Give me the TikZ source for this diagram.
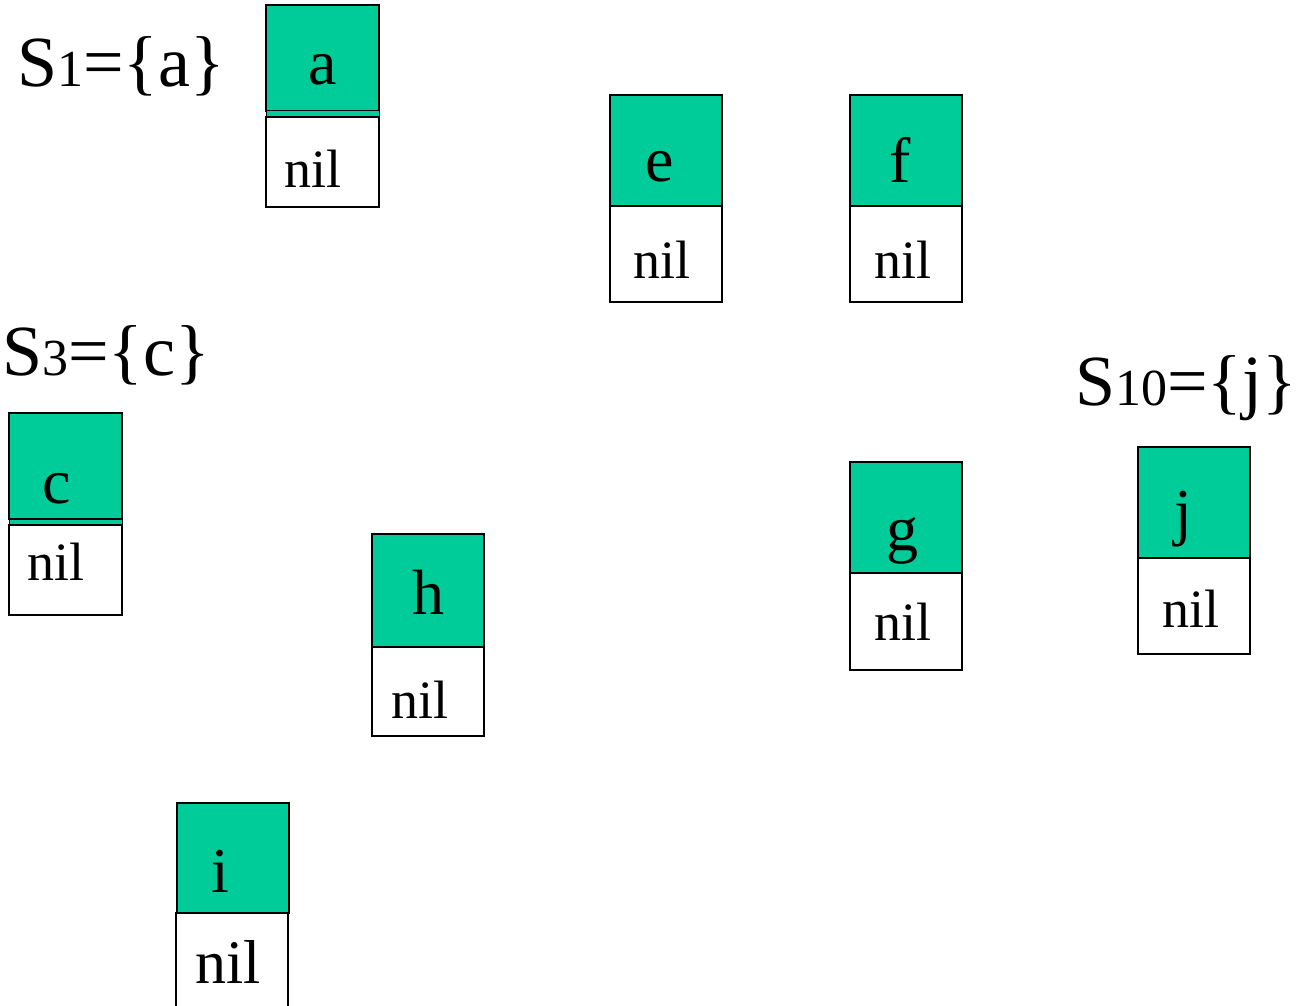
\documentclass[tikz,border=0pt]{standalone}
\usepackage{fontspec}
\setmainfont{Liberation Serif}
\definecolor{cellgreen}{RGB}{0,204,153}
\begin{document}
\begin{tikzpicture}[x=1pt,y=-1pt,
  cell/.style={draw=black, line width=1.6pt, anchor=north west, inner sep=0pt, outer sep=0pt, minimum width=112pt},
  keycell/.style={cell, fill=cellgreen},
  ptrcell/.style={cell, fill=white},
  keytext/.style={anchor=base, inner sep=0pt, font=\fontsize{64}{70}\selectfont},
  niltext/.style={anchor=base, inner sep=0pt, font=\fontsize{54}{60}\selectfont},
  setlabel/.style={anchor=base west, inner sep=0pt, font=\fontsize{72}{80}\selectfont},
  subs/.style={}]
\useasboundingbox (0,0) rectangle (1298,1006);
% box a
\node[keycell, minimum width=113pt, minimum height=106pt] (akey) at (266,5) {};
\node[keycell, minimum width=113pt, minimum height=6pt, line width=1pt] (astrip) at (266,111) {};
\node[ptrcell, minimum width=113pt, minimum height=90pt] (aptr) at (266,117) {};
\node[keytext] (atext) at (323,85) {a};
\node[niltext] (anil) at (313,187) {nil};
% box e
\node[keycell, minimum height=111pt] (ekey) at (610,95) {};
\node[ptrcell, minimum height=96pt] (eptr) at (610,206) {};
\node[keytext] (etext) at (660,181) {e};
\node[niltext] (enil) at (662,278) {nil};
% box f
\node[keycell, minimum height=111pt] (fkey) at (850,95) {};
\node[ptrcell, minimum height=96pt] (fptr) at (850,206) {};
\node[keytext] (ftext) at (900,182) {f};
\node[niltext] (fnil) at (903,278) {nil};
% box c
\node[keycell, minimum width=113pt, minimum height=106pt] (ckey) at (9,413) {};
\node[keycell, minimum width=113pt, minimum height=6pt, line width=1pt] (cstrip) at (9,519) {};
\node[ptrcell, minimum width=113pt, minimum height=90pt] (cptr) at (9,525) {};
\node[keytext] (ctext) at (57,503) {c};
\node[niltext] (cnil) at (56,580) {nil};
% box h
\node[keycell, minimum height=113pt] (hkey) at (372,534) {};
\node[ptrcell, minimum height=89pt] (hptr) at (372,647) {};
\node[keytext] (htext) at (428,614) {h};
\node[niltext] (hnil) at (420,718) {nil};
% box g
\node[keycell, minimum height=111pt] (gkey) at (850,462) {};
\node[ptrcell, minimum height=97pt] (gptr) at (850,573) {};
\node[keytext] (gtext) at (902,550) {g};
\node[niltext] (gnil) at (903,640) {nil};
% box j
\node[keycell, minimum height=111pt] (jkey) at (1138,447) {};
\node[ptrcell, minimum height=96pt] (jptr) at (1138,558) {};
\node[keytext] (jtext) at (1183,533) {j};
\node[niltext] (jnil) at (1191,627) {nil};
% box i
\node[keycell, minimum height=110pt] (ikey) at (177,803) {};
\node[ptrcell, minimum height=110pt] (iptr) at (176,913) {};
\node[keytext] (itext) at (220,892) {i};
\node[niltext, font=\fontsize{62}{68}\selectfont] (inil) at (228,983) {nil};
% set labels
\node[setlabel] (s1) at (17,87) {S{\fontsize{52}{60}\selectfont 1}=\{a\}};
\node[setlabel] (s3) at (2,375) {S{\fontsize{52}{60}\selectfont 3}=\{c\}};
\node[setlabel] (s10) at (1075,405) {S{\fontsize{52}{60}\selectfont 10}=\{j\}};
\end{tikzpicture}
\end{document}
